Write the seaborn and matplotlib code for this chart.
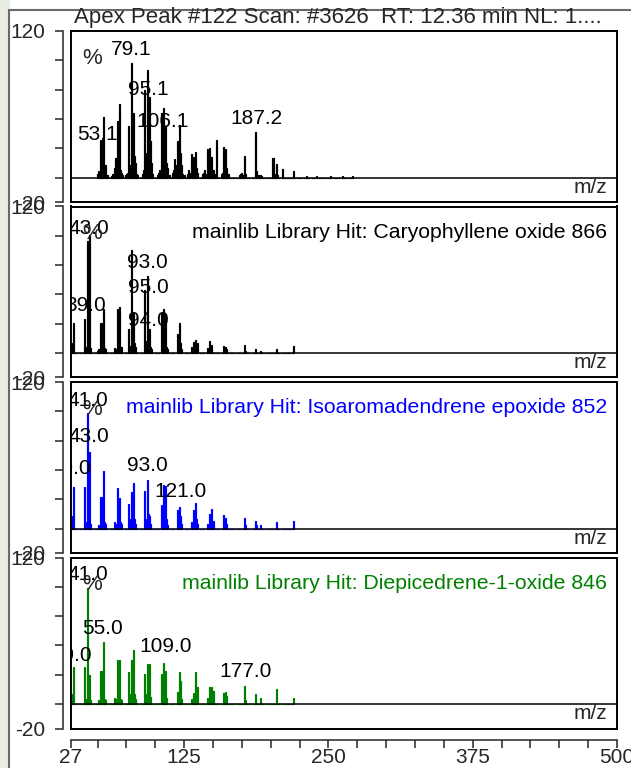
import matplotlib
matplotlib.use("Agg")
import matplotlib.pyplot as plt
from matplotlib.patches import Rectangle
from matplotlib.lines import Line2D
import seaborn as sns

# ---- data ------------------------------------------------------------------
# measured scan (apex peak #122)
scan_mz = [50, 51, 52, 53, 54, 55, 56, 57, 58, 59,
           62, 63, 64, 65, 66, 67, 68, 69, 70, 71, 72,
           74, 75, 76, 77, 78, 79, 80, 81, 82, 83, 84, 85,
           89, 90, 91, 92, 93, 94, 95, 96, 97, 98,
           102, 103, 104, 105, 106, 107, 108, 109, 110, 111, 112,
           115, 116, 117, 118, 119, 120, 121, 122, 123, 124, 125,
           128, 129, 130, 131, 132, 133, 134, 135, 136, 137,
           141, 142, 143, 144, 145, 146, 147, 148, 149, 150, 151, 153,
           157, 158, 159, 160, 161, 162, 163,
           173, 174, 175, 176, 177, 178,
           187, 188, 189, 191, 192,
           202, 203, 205, 206, 210, 220,
           231, 240, 252, 262, 271]
scan_int = [3, 5, 3, 31, 20, 50, 8, 10, 2, 2,
            1, 3, 2, 8, 16, 46, 10, 60, 6, 4, 2,
            2, 3, 4, 42, 10, 94, 14, 53, 18, 12, 3, 2,
            3, 6, 72, 20, 88, 25, 66, 30, 12, 3,
            2, 4, 6, 53, 15, 57, 18, 42, 12, 8, 2,
            4, 6, 15, 10, 30, 12, 43, 20, 10, 3, 2,
            3, 6, 4, 19, 8, 17, 6, 21, 8, 4,
            3, 4, 6, 3, 23, 8, 24, 10, 17, 6, 3, 31,
            3, 4, 25, 8, 23, 8, 3,
            2, 3, 4, 2, 18, 3,
            37, 5, 2, 2, 1,
            16, 3, 11, 2, 7, 5,
            1, 1, 1, 1, 1]

# library hit 1: Caryophyllene oxide
hit1_mz = [27, 29, 39, 40, 41, 42, 43, 44, 50, 51, 53, 54, 55, 56, 57,
           65, 66, 67, 68, 69, 70, 71, 77, 78, 79, 80, 81, 82, 83,
           91, 92, 93, 94, 95, 96, 97, 105, 106, 107, 108, 109, 110, 111,
           119, 120, 121, 122, 123, 131, 132, 133, 134, 135, 136, 137,
           145, 147, 148, 149, 159, 161, 162, 177, 178, 187, 191, 205, 220]
hit1_int = [8, 25, 28, 5, 92, 10, 97, 4, 2, 3, 25, 6, 36, 4, 3,
            4, 3, 36, 15, 38, 5, 5, 20, 6, 84, 15, 33, 8, 5,
            52, 10, 63, 15, 20, 5, 3, 33, 8, 36, 10, 32, 5, 3,
            16, 5, 25, 8, 3, 5, 4, 9, 5, 11, 4, 8,
            4, 10, 4, 7, 6, 5, 3, 7, 2, 3, 2, 3, 6]

# library hit 2: Isoaromadendrene epoxide
hit2_mz = [27, 29, 39, 40, 41, 42, 43, 44, 51, 53, 54, 55, 56, 57,
           65, 66, 67, 68, 69, 70, 71, 77, 78, 79, 80, 81, 82, 83,
           91, 92, 93, 94, 95, 96, 105, 106, 107, 108, 109, 110, 111,
           119, 120, 121, 122, 123, 131, 133, 134, 135, 136, 137,
           145, 147, 148, 149, 150, 159, 160, 161, 162, 177, 178,
           187, 188, 191, 205, 220]
hit2_int = [10, 34, 34, 5, 95, 12, 63, 4, 3, 26, 6, 47, 5, 4,
            5, 4, 33, 10, 25, 5, 4, 20, 8, 30, 12, 37, 8, 4,
            31, 8, 40, 12, 10, 4, 19, 10, 36, 12, 35, 8, 3,
            15, 5, 18, 10, 4, 5, 15, 6, 21, 8, 4,
            4, 12, 6, 16, 6, 11, 4, 9, 4, 9, 3,
            6, 3, 3, 5, 6]

# library hit 3: Diepicedrene-1-oxide
hit3_mz = [27, 29, 39, 40, 41, 42, 43, 44, 51, 53, 54, 55, 56, 57,
           65, 66, 67, 68, 69, 70, 71, 77, 78, 79, 80, 81, 82, 83,
           91, 92, 93, 94, 95, 96, 105, 106, 107, 108, 109, 110,
           119, 120, 121, 122, 123, 131, 133, 134, 135, 136, 137,
           145, 147, 148, 149, 150, 159, 160, 161, 162, 177, 178,
           187, 191, 205, 220]
hit3_int = [8, 30, 30, 4, 95, 8, 24, 3, 3, 27, 5, 51, 4, 3,
            5, 4, 36, 12, 36, 4, 3, 26, 8, 36, 12, 44, 8, 4,
            25, 8, 33, 12, 33, 6, 25, 8, 34, 10, 27, 5,
            10, 5, 26, 19, 4, 4, 9, 5, 26, 6, 14,
            5, 14, 6, 14, 11, 9, 4, 10, 7, 15, 3,
            8, 5, 12, 5]

# peak annotations: text, m/z, intensity where the label sits
scan_labels = ["53.1", "79.1", "95.1", "106.1", "187.2"]
scan_label_mz = [49.5, 79.0, 93.7, 105.9, 187.3]
scan_label_int = [35, 104.5, 72, 46, 48]

hit1_labels = ["43.0", "39.0", "93.0", "95.0", "94.0"]
hit1_label_mz = [42.2, 39.6, 93.3, 93.7, 93.7]
hit1_label_int = [102, 39, 74, 54, 27]

hit2_labels = ["41.0", "43.0", "29.0", "93.0", "121.0"]
hit2_label_mz = [41.5, 42.2, 26.6, 93.1, 121.5]
hit2_label_int = [105, 75, 49, 52, 30]

hit3_labels = ["41.0", "55.0", "29.0", "109.0", "177.0"]
hit3_label_mz = [41.5, 54.7, 27.0, 109.3, 177.8]
hit3_label_int = [106, 62, 40, 47, 27]

panel_titles = ["",
                "mainlib Library Hit: Caryophyllene oxide 866",
                "mainlib Library Hit: Isoaromadendrene epoxide 852",
                "mainlib Library Hit: Diepicedrene-1-oxide 846"]
panel_colors = ["black", "black", "#0000ff", "#008000"]
chart_title = "Apex Peak #122 Scan: #3626  RT: 12.36 min NL: 1...."

x_ticks = [27, 125, 250, 375, 500]
x_minor = [50, 75, 100, 150, 175, 200, 225, 275, 300, 325, 350, 400, 425, 450, 475]
y_ticks = [-20, 0, 24, 48, 72, 96, 120]
y_ticklabels = ["-20", "", "", "", "", "", "120"]

# ---- layout (pixels) --------------------------------------------------------
W, H = 631, 768
BOX_L, BOX_R = 71, 617
PANEL_TOP0, PANEL_STEP, PANEL_H = 31, 175.5, 171


def add_px_axes(fig, left, top, width, height):
    return fig.add_axes([left / W, 1 - (top + height) / H, width / W, height / H])


def draw_panel(ax, mz, inten, color, labels, label_mz, label_int, hit_text, last):
    sns.histplot(x=mz, weights=inten, discrete=True, shrink=0.9,
                 color=color, edgecolor=color, linewidth=0.85, alpha=1,
                 ax=ax)
    ax.set_xlim(27, 500)
    ax.set_ylim(-20, 120)
    ax.set_xlabel("")
    ax.set_ylabel("")
    ax.set_xticks([])
    ax.set_yticks([])
    ax.axhline(0, color="black", lw=1.1)
    for s in ax.spines.values():
        s.set_visible(True)
        s.set_color("black")
        s.set_linewidth(1.4)

    for t, xm, yi in zip(labels, label_mz, label_int):
        ax.text(xm, yi, t, ha="center", va="center", fontsize=15, color="black",
                clip_on=True)

    ax.text(0.0385, 0.842, "%", transform=ax.transAxes, ha="center",
            va="center", fontsize=16)
    if hit_text:
        ax.text(0.9817, 0.848, hit_text, transform=ax.transAxes, ha="right",
                va="center", fontsize=15.3, color=color)
    ax.text(0.9817, 0, "m/z", transform=ax.get_yaxis_transform(), ha="right",
            va="top", fontsize=15)

    # y scale sits on its own line left of the box
    sec = ax.secondary_yaxis(-8 / (BOX_R - BOX_L))
    sec.set_yticks(y_ticks)
    sec.set_yticklabels(y_ticklabels)
    sec.tick_params(axis="y", direction="out", length=6, width=1.1, pad=7,
                    labelsize=15)
    sec.spines["left"].set_linewidth(1.1)

    if last:
        secx = ax.secondary_xaxis(-11 / PANEL_H)
        secx.set_xticks(x_ticks)
        secx.set_xticks(x_minor, minor=True)
        secx.tick_params(axis="x", which="both", direction="out", length=6,
                         width=1.1, pad=0, labelsize=15)
        secx.spines["bottom"].set_linewidth(1.1)


sns.set_style("white")
plt.rcParams["font.family"] = ["Liberation Sans", "DejaVu Sans"]

fig = plt.figure(figsize=(W / 100, H / 100), dpi=100)
fig.patch.set_facecolor("white")

# pale strip and outer frame of the screenshot
fig.patches.append(Rectangle((0, 0), 9 / W, 1, transform=fig.transFigure,
                             color="#e8eee2", zorder=0))
fig.lines.append(Line2D([9 / W, 9 / W], [0, 1 - 10 / H], transform=fig.transFigure,
                        color="#6a6a6a", lw=1.5))
fig.lines.append(Line2D([9 / W, 1], [1 - 10 / H, 1 - 10 / H],
                        transform=fig.transFigure, color="#6a6a6a", lw=1.5))

fig.text(338 / W, 1 - 17 / H, chart_title, ha="center", va="center", fontsize=16)

spectra = [(scan_mz, scan_int, scan_labels, scan_label_mz, scan_label_int),
           (hit1_mz, hit1_int, hit1_labels, hit1_label_mz, hit1_label_int),
           (hit2_mz, hit2_int, hit2_labels, hit2_label_mz, hit2_label_int),
           (hit3_mz, hit3_int, hit3_labels, hit3_label_mz, hit3_label_int)]

for i, (mz, inten, labels, lmz, lint) in enumerate(spectra):
    top = PANEL_TOP0 + PANEL_STEP * i
    ax = add_px_axes(fig, BOX_L, top, BOX_R - BOX_L, PANEL_H)
    draw_panel(ax, mz, inten, panel_colors[i], labels, lmz, lint,
               panel_titles[i], i == len(spectra) - 1)

fig.savefig("out.png", dpi=100)
